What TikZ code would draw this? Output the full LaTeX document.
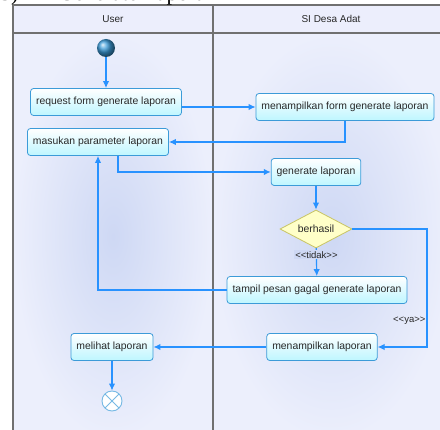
\documentclass[tikz,border=0pt]{standalone}
\usepackage{fontspec}
\setmainfont{Liberation Sans}
\newfontfamily\headfont{Liberation Serif}
\newfontfamily\guardfont{Liberation Sans}[Ligatures=TeXOff]
\usepackage{tikz}
\usetikzlibrary{shapes,arrows,arrows.meta}
\usetikzlibrary{shapes.geometric}
\usetikzlibrary{positioning}
\definecolor{flowblue}{RGB}{40,146,255}
\definecolor{boxline}{RGB}{60,155,216}
\definecolor{boxfill}{RGB}{190,246,255}
\definecolor{lanemid}{RGB}{206,216,244}
\definecolor{laneedge}{RGB}{236,239,252}
\definecolor{headfill}{RGB}{236,238,252}
\definecolor{frameline}{RGB}{112,112,112}
\definecolor{decfill}{RGB}{255,255,200}
\definecolor{decline}{RGB}{200,196,100}
\definecolor{txt}{RGB}{40,40,40}
\tikzstyle{activity} = [rectangle, draw=boxline, line width=0.8pt, top color=white,
bottom color=boxfill, rounded corners=3pt, inner xsep=5.5pt, minimum height=27pt,
font=\fontsize{10.4}{12}\selectfont, text=txt]
\tikzstyle{decision} = [diamond, draw=decline, line width=0.8pt, fill=decfill,
minimum width=72pt, minimum height=38pt, inner sep=0pt, aspect=1.9,
font=\fontsize{10.4}{12}\selectfont, text=txt]
\tikzstyle{initial} = [circle, minimum size=18pt, inner sep=0pt, ball color=boxline]
\tikzstyle{final} = [circle, draw=boxline!70, line width=0.9pt, fill=white,
minimum size=20pt, inner sep=0pt,
path picture={\draw[boxline!70, line width=0.9pt]
(path picture bounding box.south west) -- (path picture bounding box.north east)
(path picture bounding box.north west) -- (path picture bounding box.south east);}]
\tikzstyle{line} = [draw=flowblue, line width=1.2pt, -{Latex[length=7pt,width=6.5pt]}]
\tikzstyle{guard} = [font=\guardfont\fontsize{9.5}{11}\selectfont, text=txt, inner sep=1pt]

\begin{document}
\begin{tikzpicture}[x=1pt, y=1pt]
\useasboundingbox (0,0) rectangle (440,-430);
% Lanes
\shade[inner color=lanemid, outer color=laneedge] (13,-33) rectangle (213,-440);
\shade[inner color=lanemid, outer color=laneedge] (213,-33) rectangle (450,-440);
\fill[headfill] (13,-5) rectangle (450,-33);
\draw[frameline, line width=1.2pt] (13,-440) -- (13,-5) -- (450,-5);
\draw[frameline, line width=1.2pt] (13,-33) -- (450,-33);
\draw[frameline, line width=1.2pt] (213,-5) -- (213,-440);
\node[font=\fontsize{10}{12}\selectfont, text=txt] (laneuser) at (113,-19) {User};
\node[font=\fontsize{10}{12}\selectfont, text=txt] (lanesi) at (331,-19) {SI Desa Adat};
\node[anchor=base west, inner sep=0pt, font=\headfont\fontsize{22}{24}\selectfont] (title)
  at (0,-1) {5)\hspace{40pt}Generate Laporan};

% Place nodes
\node [initial] (start) at (106,-48) {};
\node [activity, below of=start, node distance=54pt] (req) {request form generate laporan};
\node [activity, right of=req, node distance=239pt, yshift=-5pt] (form) {menampilkan form generate laporan};
\node [activity, below of=req, node distance=40pt, xshift=-8pt] (mas) {masukan parameter laporan};
\node [activity, below of=form, node distance=65pt, xshift=-29pt] (gen) {generate laporan};
\node [decision, below of=gen, node distance=57pt] (dec) {berhasil};
\node [activity, below of=dec, node distance=61pt, xshift=1pt] (fail) {tampil pesan gagal generate laporan};
\node [activity, below of=fail, node distance=57pt, xshift=5pt] (show) {menampilkan laporan};
\node [activity, left of=show, node distance=210pt] (view) {melihat laporan};
\node [final, below of=view, node distance=54pt] (stop) {};

% Draw edges
\path [line] (start) -- (req);
\path [line] (form.west -| req.east) -- (form.west);
\path [line] (form) |- (mas);
\path [line] ([xshift=20pt]mas.south) |- (gen);
\path [line] (fail) -| (mas);
\path [line] (gen) -- (dec);
\path [line] (dec) -- node [guard, fill=lanemid, pos=0.24] {<<tidak>>} (fail);
\path [line] (dec) -- ++(111pt,0) |- node [guard, left, pos=0.39] {<<ya>>} (show);
\path [line] (show) -- (view);
\path [line] (view) -- (stop);
\end{tikzpicture}
\end{document}
